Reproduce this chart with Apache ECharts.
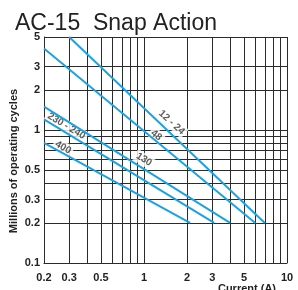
<!DOCTYPE html>
<html>
<head>
<meta charset="utf-8">
<script src="https://cdn.jsdelivr.net/npm/echarts@6/dist/echarts.min.js"></script>
<style>
html,body{margin:0;padding:0;background:#fff}
#main{width:298px;height:290px}
</style>
</head>
<body>
<div id="main"></div>
<script>
// grid lines of the log paper and the values that get a label
var xGrid = [0.2, 0.3, 0.4, 0.5, 0.6, 0.7, 0.8, 0.9, 1, 2, 3, 4, 5, 6, 7, 8, 9, 10];
var yGrid = [0.1, 0.2, 0.3, 0.4, 0.5, 0.6, 0.7, 0.8, 0.9, 1, 2, 3, 5];
var xLabels = [0.2, 0.3, 0.5, 1, 2, 3, 5, 10];
var yLabels = [0.1, 0.2, 0.3, 0.5, 1, 2, 3, 5];

// one curve per voltage: [current A, millions of cycles]
var voltages = ['12 - 24', '48', '130', '230 - 240', '400'];
var startPoints = [[0.3, 5], [0.2, 4.1], [0.2, 1.5], [0.2, 1.2], [0.2, 0.8]];
var endPoints = [[7, 0.2], [6, 0.2], [4, 0.2], [3.1, 0.2], [2.1, 0.2]];

// where the voltage tags sit and how they lean
var labelAt = [[1.56, 1.14], [1.22, 0.91], [1.0, 0.6], [0.287, 1.07], [0.272, 0.74]];
var labelAngles = [-42, -39, -32, -31, -29];

var font = "'Liberation Sans', Arial, sans-serif";

var gridLines = [];
xGrid.forEach(function (v) {
    gridLines.push({
        xAxis: v, name: String(v),
        label: {show: xLabels.indexOf(v) >= 0, position: 'start', distance: 9}
    });
});
yGrid.forEach(function (v) {
    gridLines.push({
        yAxis: v, name: String(v),
        label: {show: yLabels.indexOf(v) >= 0, position: 'start', distance: 4}
    });
});

var series = [{
    type: 'line',
    data: [],
    silent: true,
    z: 1,
    markLine: {
        silent: true,
        animation: false,
        symbol: ['none', 'none'],
        z: 1,
        lineStyle: {type: 'solid', color: '#2b2b2b', width: 1},
        label: {formatter: '{b}', fontFamily: font, fontSize: 11, fontWeight: 'bold', color: '#222'},
        emphasis: {disabled: true},
        data: gridLines
    }
}];

// tags first (white box cuts the grid), curves drawn over them
series.push({
    type: 'scatter',
    silent: true,
    z: 2,
    symbolSize: 1,
    itemStyle: {color: 'rgba(0,0,0,0)'},
    label: {
        show: true, position: 'inside', formatter: '{b}',
        fontFamily: font, fontSize: 10, fontWeight: 'bold', color: '#333',
        backgroundColor: '#fff', padding: [1, 2]
    },
    data: voltages.map(function (v, i) {
        return {name: v, value: labelAt[i], label: {rotate: labelAngles[i]}};
    })
});

voltages.forEach(function (v, i) {
    series.push({
        type: 'line',
        name: v,
        data: [startPoints[i], endPoints[i]],
        symbol: 'none',
        silent: true,
        z: 3,
        lineStyle: {color: '#1ca2de', width: 2}
    });
});

var option = {
    animation: false,
    title: {
        text: 'AC-15  Snap Action',
        left: 10,
        top: 7,
        textStyle: {fontFamily: font, fontSize: 23, fontWeight: 'normal', color: '#222'}
    },
    grid: {left: 44, right: 11, top: 37, bottom: 27, containLabel: false, outerBoundsMode: 'none'},
    xAxis: {
        type: 'log', logBase: 10, min: 0.2, max: 10,
        axisLine: {lineStyle: {color: '#222'}},
        axisTick: {show: false},
        axisLabel: {show: false},
        splitLine: {show: false},
        name: 'Current (A)',
        nameLocation: 'end',
        nameGap: -11,
        nameTextStyle: {
            fontFamily: font, fontSize: 11, fontWeight: 'bold', color: '#222',
            align: 'right', verticalAlign: 'top', padding: [20, 0, 0, 0]
        }
    },
    yAxis: {
        type: 'log', logBase: 10, min: 0.1, max: 5,
        axisLine: {lineStyle: {color: '#222'}},
        axisTick: {show: false},
        axisLabel: {show: false},
        splitLine: {show: false},
        name: 'Millions of operating cycles',
        nameLocation: 'middle',
        nameGap: 25,
        nameTextStyle: {
            fontFamily: font, fontSize: 11, fontWeight: 'bold', color: '#222',
            padding: [0, 22, 0, 0]
        }
    },
    series: series
};

var myChart = echarts.init(document.getElementById('main'));
myChart.setOption(option);
</script>
</body>
</html>
